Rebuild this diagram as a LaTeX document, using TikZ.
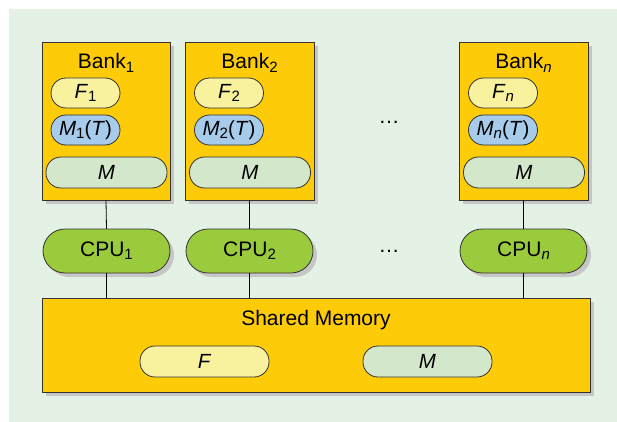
\documentclass[tikz,border=0pt]{standalone}
\usepackage{fontspec}
\setmainfont{Liberation Sans}
\usepackage{xcolor}
\usepackage{tikz}
\usetikzlibrary{shadows,positioning}
\definecolor{bgcol}{HTML}{E4F2E6}
\definecolor{bankcol}{HTML}{FDCB08}
\definecolor{fcol}{HTML}{F8F29E}
\definecolor{mtcol}{HTML}{A6CBEB}
\definecolor{mcol}{HTML}{D3E7CB}
\definecolor{cpucol}{HTML}{9ACB3C}
\definecolor{shadecol}{HTML}{C6C6C6}
\definecolor{edgecol}{HTML}{333333}
\newcommand{\idx}[1]{\raisebox{-0.3ex}{\fontsize{15}{17}\selectfont #1}}
\tikzstyle{shade} = [drop shadow={shadow xshift=4pt, shadow yshift=-4pt, fill=shadecol, opacity=1}]
\tikzstyle{bank} = [rectangle, draw=edgecol, line width=0.9pt, fill=bankcol, minimum width=128pt, minimum height=158pt, shade]
\tikzstyle{pill} = [rectangle, rounded corners=15pt, draw=edgecol, line width=0.8pt, minimum height=30pt, inner sep=0pt, font=\fontsize{20.5}{23}\selectfont]
\tikzstyle{cpu} = [rectangle, rounded corners=22pt, draw=edgecol, line width=0.8pt, fill=cpucol, minimum width=127pt, minimum height=44pt, inner sep=0pt, shade]
\tikzstyle{label} = [font=\fontsize{21}{24}\selectfont, inner sep=0pt]
\tikzstyle{link} = [draw=black, line width=0.8pt]

\begin{document}
\begin{tikzpicture}[x=1pt, y=-1pt, font=\fontsize{21}{24}\selectfont]
    \useasboundingbox (0,0) rectangle (617,422);
    \fill [bgcol] (9,9) rectangle (617,422);
    % banks
    \node (bank1) [bank] at (106,121) {};
    \node (bank2) [bank, minimum width=129pt] at (249.5,121) {};
    \node (bankn) [bank, minimum width=129pt] at (523.5,121) {};
    \node (bank1lab) [label] at (106,63) {Bank\idx{1}};
    \node (bank2lab) [label] at (249.5,63) {Bank\idx{2}};
    \node (banknlab) [label] at (523.5,63) {Bank\idx{\textit{n}}};
    \node (f1) [pill, fill=fcol, minimum width=69pt] at (85.5,93) {\textit{F}\idx{1}};
    \node (f2) [pill, fill=fcol, minimum width=69pt] at (229,93) {\textit{F}\idx{2}};
    \node (fn) [pill, fill=fcol, minimum width=69pt] at (503,93) {\textit{F}\idx{\textit{n}}};
    \node (mt1) [pill, fill=mtcol, minimum width=69pt] at (85.5,130) {\textit{M}\idx{1}(\textit{T})};
    \node (mt2) [pill, fill=mtcol, minimum width=69pt] at (229,130) {\textit{M}\idx{2}(\textit{T})};
    \node (mtn) [pill, fill=mtcol, minimum width=69pt] at (503,130) {\textit{M}\idx{\textit{n}}(\textit{T})};
    \node (m1) [pill, fill=mcol, minimum width=121pt, minimum height=31pt] at (106.5,172.5) {\textit{M}};
    \node (m2) [pill, fill=mcol, minimum width=121pt, minimum height=31pt] at (250,172.5) {\textit{M}};
    \node (mn) [pill, fill=mcol, minimum width=121pt, minimum height=31pt] at (524,172.5) {\textit{M}};
    % cpus
    \node (cpu1) [cpu] at (106.5,251) {CPU\idx{1}};
    \node (cpu2) [cpu] at (249.5,251) {CPU\idx{2}};
    \node (cpun) [cpu] at (523.5,251) {CPU\idx{\textit{n}}};
    \node (dotsa) at (389,122) {\dots};
    \node (dotsb) at (389,251) {\dots};
    % shared memory
    \node (shared) [bank, minimum width=548pt, minimum height=94pt] at (316,345) {};
    \node (sharedlab) [label] at (316,320) {Shared Memory};
    \node (fall) [pill, fill=fcol, minimum width=129pt, minimum height=31pt] at (204.5,361.5) {\textit{F}};
    \node (mall) [pill, fill=mcol, minimum width=129pt, minimum height=31pt] at (427.5,361.5) {\textit{M}};
    % links
    \draw [link] (bank1.south) -- (cpu1.north);
    \draw [link] (bank2.south) -- (cpu2.north);
    \draw [link] (bankn.south) -- (cpun.north);
    \draw [link] (cpu1.south) -- (cpu1.south |- shared.north);
    \draw [link] (cpu2.south) -- (cpu2.south |- shared.north);
    \draw [link] (cpun.south) -- (cpun.south |- shared.north);
\end{tikzpicture}
\end{document}
